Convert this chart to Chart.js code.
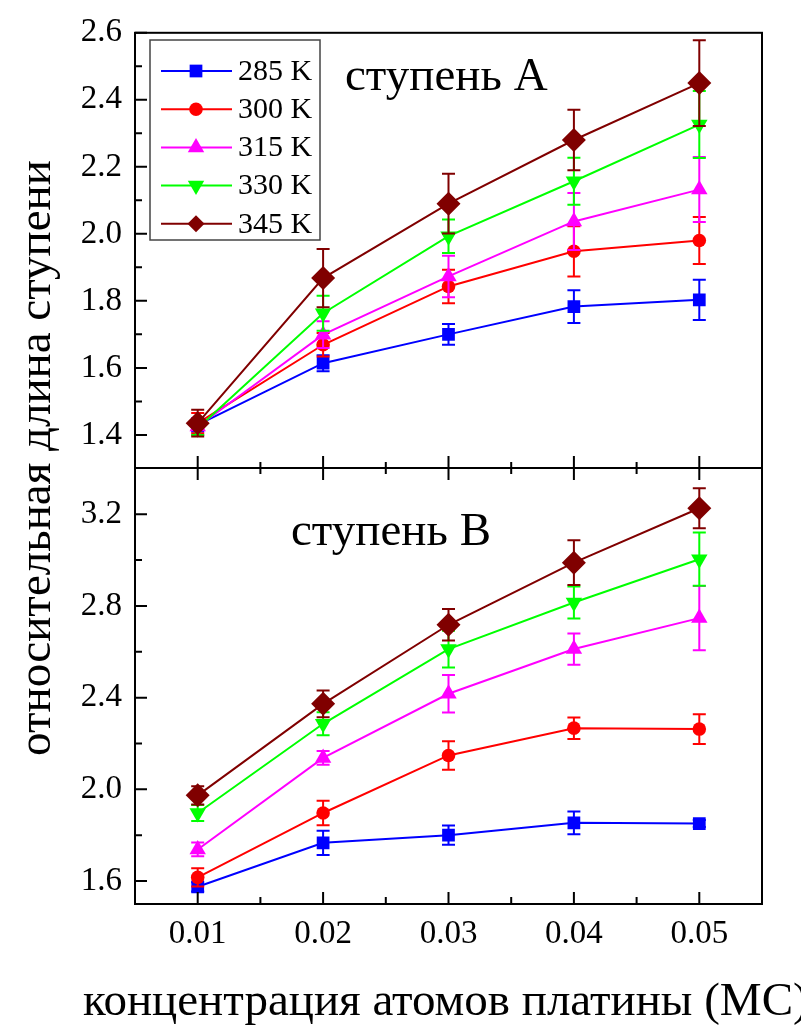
<!DOCTYPE html>
<html><head><meta charset="utf-8">
<script src="https://cdn.jsdelivr.net/npm/chart.js@4.4.0/dist/chart.umd.min.js"></script>
<style>html,body{margin:0;padding:0;background:#fff;}#wrap{position:relative;width:801px;height:1034px;}</style>
</head><body><div id="wrap"><canvas id="c" width="801" height="1034"></canvas></div>
<script>
// ---- data ----
const X = [0.01, 0.02, 0.03, 0.04, 0.05];
const SERIES = ['285 K', '300 K', '315 K', '330 K', '345 K'];

const A_285 = [1.430, 1.614, 1.700, 1.783, 1.803];
const A_300 = [1.435, 1.669, 1.843, 1.948, 1.980];
const A_315 = [1.425, 1.699, 1.873, 2.037, 2.132];
const A_330 = [1.420, 1.763, 1.993, 2.157, 2.326];
const A_345 = [1.435, 1.868, 2.090, 2.280, 2.450];
const ERR_A_285 = [0.020, 0.024, 0.031, 0.049, 0.060];
const ERR_A_300 = [0.030, 0.035, 0.050, 0.075, 0.070];
const ERR_A_315 = [0.025, 0.040, 0.062, 0.085, 0.097];
const ERR_A_330 = [0.020, 0.052, 0.050, 0.070, 0.100];
const ERR_A_345 = [0.040, 0.087, 0.089, 0.090, 0.128];

const B_285 = [1.575, 1.767, 1.800, 1.854, 1.851];
const B_300 = [1.616, 1.897, 2.148, 2.267, 2.263];
const B_315 = [1.738, 2.137, 2.417, 2.612, 2.747];
const B_330 = [1.897, 2.286, 2.612, 2.815, 3.004];
const B_345 = [1.974, 2.373, 2.718, 2.989, 3.226];
const ERR_B_285 = [0.020, 0.053, 0.042, 0.050, 0.015];
const ERR_B_300 = [0.040, 0.053, 0.062, 0.047, 0.065];
const ERR_B_315 = [0.030, 0.030, 0.082, 0.068, 0.140];
const ERR_B_330 = [0.035, 0.050, 0.080, 0.070, 0.116];
const ERR_B_345 = [0.040, 0.058, 0.069, 0.098, 0.087];

const X_TICKS = [0.01, 0.02, 0.03, 0.04, 0.05];
const X_MINOR = [0.015, 0.025, 0.035, 0.045];
const A_TICKS = [1.4, 1.6, 1.8, 2.0, 2.2, 2.4, 2.6];
const A_MINOR = [1.5, 1.7, 1.9, 2.1, 2.3, 2.5];
const B_TICKS = [1.6, 2.0, 2.4, 2.8, 3.2];
const B_MINOR = [1.8, 2.2, 2.6, 3.0];

const PANEL_A_LABEL = 'ступень A';
const PANEL_B_LABEL = 'ступень B';
const Y_TITLE = 'относительная длина ступени';
const X_TITLE = 'концентрация атомов платины (МС)';

// ---- styles ----
const COLORS = ['#0000ff', '#ff0000', '#ff00ff', '#00ff00', '#800000'];
const STYLES = ['rect', 'circle', 'triangle', 'triangle', 'rectRot'];
const ROTS = [0, 0, 0, 180, 0];
const RADII = [9, 6.8, 9.5, 9.5, 12];
const FONT = '"Liberation Serif", "Times New Roman", serif';

const A_VALS = [A_285, A_300, A_315, A_330, A_345];
const A_ERRS = [ERR_A_285, ERR_A_300, ERR_A_315, ERR_A_330, ERR_A_345];
const B_VALS = [B_285, B_300, B_315, B_330, B_345];
const B_ERRS = [ERR_B_285, ERR_B_300, ERR_B_315, ERR_B_330, ERR_B_345];

function makeSets(vals, errs, axis) {
  return vals.map((v, i) => ({
    label: SERIES[i] + axis,
    yAxisID: axis,
    data: X.map((x, j) => ({x: x, y: v[j]})),
    errors: errs[i],
    borderColor: COLORS[i],
    backgroundColor: COLORS[i],
    pointBackgroundColor: COLORS[i],
    pointBorderColor: COLORS[i],
    pointBorderWidth: 0,
    pointStyle: STYLES[i],
    pointRotation: ROTS[i],
    pointRadius: RADII[i],
    borderWidth: 2,
    tension: 0,
    order: 5 - i,
    fill: false
  }));
}

function drawMarker(ctx, style, x, y, r, rot, color) {
  ctx.save();
  ctx.fillStyle = color;
  ctx.translate(x, y);
  ctx.rotate(rot * Math.PI / 180);
  ctx.beginPath();
  if (style === 'rect') {
    const s = Math.SQRT1_2 * r;
    ctx.rect(-s, -s, 2 * s, 2 * s);
  } else if (style === 'circle') {
    ctx.arc(0, 0, r, 0, Math.PI * 2);
  } else if (style === 'triangle') {
    ctx.moveTo(0, -r);
    ctx.lineTo(r * Math.sin(Math.PI * 2 / 3), -r * Math.cos(Math.PI * 2 / 3));
    ctx.lineTo(-r * Math.sin(Math.PI * 2 / 3), -r * Math.cos(Math.PI * 2 / 3));
    ctx.closePath();
  } else if (style === 'rectRot') {
    const s = Math.SQRT1_2 * r;
    ctx.moveTo(-s, 0); ctx.lineTo(0, -s); ctx.lineTo(s, 0); ctx.lineTo(0, s); ctx.closePath();
  }
  ctx.fill();
  ctx.restore();
}

const errorBars = {
  id: 'errorBars',
  afterDatasetDraw(chart, args) {
    const ds = chart.data.datasets[args.index];
    const meta = args.meta;
    const ys = chart.scales[ds.yAxisID];
    const ctx = chart.ctx;
    ctx.save();
    ctx.strokeStyle = ds.borderColor;
    ctx.lineWidth = 2;
    meta.data.forEach((pt, j) => {
      const v = ds.data[j].y, e = ds.errors[j];
      const y1 = ys.getPixelForValue(v + e), y2 = ys.getPixelForValue(v - e);
      const x = pt.x;
      ctx.beginPath();
      ctx.moveTo(x, y1); ctx.lineTo(x, y2);
      ctx.moveTo(x - 6.5, y1); ctx.lineTo(x + 6.5, y1);
      ctx.moveTo(x - 6.5, y2); ctx.lineTo(x + 6.5, y2);
      ctx.stroke();
    });
    ctx.restore();
  }
};

const frame = {
  id: 'frame',
  afterDraw(chart) {
    const ctx = chart.ctx;
    const ca = chart.chartArea;
    const xs = chart.scales.x, ya = chart.scales.yA, yb = chart.scales.yB;
    const mid = Math.round(ya.bottom);
    ctx.save();
    ctx.strokeStyle = '#000';
    ctx.lineWidth = 2;
    ctx.strokeRect(ca.left, ca.top, ca.right - ca.left, ca.bottom - ca.top);
    ctx.beginPath(); ctx.moveTo(ca.left, mid); ctx.lineTo(ca.right, mid); ctx.stroke();
    // ticks
    ctx.lineWidth = 2;
    ctx.beginPath();
    X_TICKS.forEach(v => {
      const px = xs.getPixelForValue(v);
      ctx.moveTo(px, ca.bottom); ctx.lineTo(px, ca.bottom - 12);
      ctx.moveTo(px, mid - 12); ctx.lineTo(px, mid + 12);
    });
    X_MINOR.forEach(v => {
      const px = xs.getPixelForValue(v);
      ctx.moveTo(px, ca.bottom); ctx.lineTo(px, ca.bottom - 7);
      ctx.moveTo(px, mid - 6); ctx.lineTo(px, mid + 6);
    });
    A_TICKS.forEach(v => { const py = ya.getPixelForValue(v); ctx.moveTo(ca.left, py); ctx.lineTo(ca.left + 12, py); });
    A_MINOR.forEach(v => { const py = ya.getPixelForValue(v); ctx.moveTo(ca.left, py); ctx.lineTo(ca.left + 7, py); });
    B_TICKS.forEach(v => { const py = yb.getPixelForValue(v); ctx.moveTo(ca.left, py); ctx.lineTo(ca.left + 12, py); });
    B_MINOR.forEach(v => { const py = yb.getPixelForValue(v); ctx.moveTo(ca.left, py); ctx.lineTo(ca.left + 7, py); });
    ctx.stroke();

    // legend box
    ctx.fillStyle = '#fff';
    ctx.fillRect(150, 40, 170, 200);
    ctx.strokeStyle = '#444';
    ctx.lineWidth = 1.5;
    ctx.strokeRect(150, 40, 170, 200);
    ctx.font = '30px ' + FONT;
    ctx.textBaseline = 'middle';
    ctx.textAlign = 'left';
    SERIES.forEach((s, i) => {
      const ly = 71 + i * 38.2;
      ctx.strokeStyle = COLORS[i];
      ctx.lineWidth = 2;
      ctx.beginPath(); ctx.moveTo(161, ly); ctx.lineTo(232, ly); ctx.stroke();
      drawMarker(ctx, STYLES[i], 196, ly, RADII[i], ROTS[i], COLORS[i]);
      ctx.fillStyle = '#000';
      ctx.fillText(s, 238, ly + 1);
    });

    // panel labels
    ctx.fillStyle = '#000';
    ctx.textBaseline = 'alphabetic';
    ctx.font = '47px ' + FONT;
    ctx.fillText(PANEL_A_LABEL, 345, 90);
    ctx.fillText(PANEL_B_LABEL, 291, 545);

    // axis titles
    ctx.font = '47px ' + FONT;
    ctx.fillText(X_TITLE, 83, 1015);
    ctx.save();
    ctx.translate(50, 458);
    ctx.rotate(-Math.PI / 2);
    ctx.textAlign = 'center';
    ctx.fillText(Y_TITLE, 0, 0);
    ctx.restore();
    ctx.restore();
  }
};

const tickFont = {family: FONT, size: 33};
new Chart(document.getElementById('c'), {
  type: 'line',
  data: {datasets: makeSets(A_VALS, A_ERRS, 'yA').concat(makeSets(B_VALS, B_ERRS, 'yB'))},
  options: {
    responsive: false, animation: false, devicePixelRatio: 1,
    layout: {padding: {top: 31, right: 39, left: 0, bottom: 0}},
    plugins: {legend: {display: false}, tooltip: {enabled: false}},
    scales: {
      x: {
        type: 'linear', min: 0.005, max: 0.055,
        grid: {display: false, drawTicks: false}, border: {display: false},
        afterBuildTicks: s => { s.ticks = X_TICKS.map(v => ({value: v})); },
        afterFit: s => { s.height = 130; },
        ticks: {font: tickFont, color: '#000', padding: 11, maxRotation: 0, autoSkip: false, callback: v => v.toFixed(2)}
      },
      yB: {
        type: 'linear', position: 'left', stack: 'p', stackWeight: 1, min: 1.5, max: 3.4,
        grid: {display: false, drawTicks: false}, border: {display: false},
        afterBuildTicks: s => { s.ticks = B_TICKS.map(v => ({value: v})); },
        afterFit: s => { s.width = 135; },
        ticks: {font: tickFont, color: '#000', padding: 13, autoSkip: false, callback: v => v.toFixed(1)}
      },
      yA: {
        type: 'linear', position: 'left', stack: 'p', stackWeight: 1, min: 1.3, max: 2.6,
        grid: {display: false, drawTicks: false}, border: {display: false},
        afterBuildTicks: s => { s.ticks = A_TICKS.map(v => ({value: v})); },
        afterFit: s => { s.width = 135; },
        ticks: {font: tickFont, color: '#000', padding: 13, autoSkip: false, callback: v => v.toFixed(1)}
      }
    }
  },
  plugins: [errorBars, frame]
});
</script></body></html>
